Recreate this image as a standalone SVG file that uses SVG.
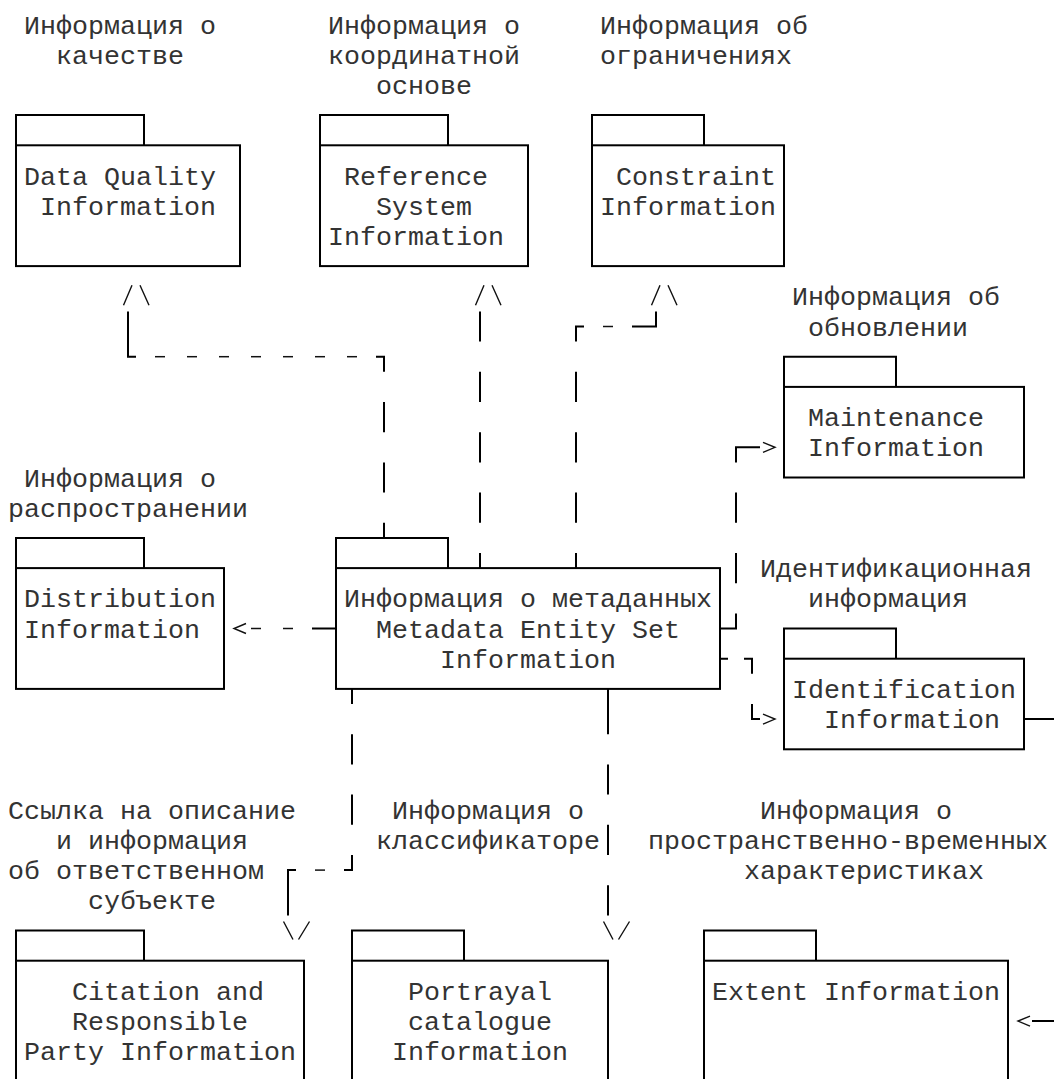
<svg xmlns="http://www.w3.org/2000/svg" xmlns:xlink="http://www.w3.org/1999/xlink" width="1054" height="1079" viewBox="0 0 1054 1079">
<style>
.pk{fill:none;stroke:#000;stroke-width:2}
.ln{fill:none;stroke:#000;stroke-width:2}
.t{font-family:"Liberation Mono","Courier New","DejaVu Sans Mono",monospace;font-size:26.667px;fill:#333;white-space:pre}
</style>
<defs>
<path id="aUp" d="M-4.5,9 L4,-11 M12,-11 L21,9" fill="none" stroke="#111" stroke-width="1.4"/>
<path id="aDown" d="M-4.5,-9 L5,9 M10.5,9 L21.5,-9" fill="none" stroke="#111" stroke-width="1.4"/>
<path id="aRight" d="M-5,-5 L7,0 L-5,5" fill="none" stroke="#111" stroke-width="1.4"/>
<path id="aLeft" d="M6,-5 L-6,0 L6,5" fill="none" stroke="#111" stroke-width="1.4"/>
<path id="hy" d="M-5,0 H5" fill="none" stroke="#111" stroke-width="1.5"/>
</defs>
<rect width="1054" height="1079" fill="#fff"/>

<g id="node-data-quality">
<text class="t" x="24" y="33.5">Информация о</text>
<text class="t" x="56" y="63.7">качестве</text>
<path class="pk" d="M16,145.3 V115.1 H144 V145.3"/>
<rect class="pk" x="16" y="145.3" width="224" height="120.8"/>
<text class="t" x="24" y="184.5">Data Quality</text>
<text class="t" x="40" y="214.7">Information</text>
</g>

<g id="node-reference-system">
<text class="t" x="328" y="33.5">Информация о</text>
<text class="t" x="328" y="63.7">координатной</text>
<text class="t" x="376" y="93.9">основе</text>
<path class="pk" d="M320,145.3 V115.1 H448 V145.3"/>
<rect class="pk" x="320" y="145.3" width="208" height="120.8"/>
<text class="t" x="344" y="184.5">Reference</text>
<text class="t" x="376" y="214.7">System</text>
<text class="t" x="328" y="244.9">Information</text>
</g>

<g id="node-constraint">
<text class="t" x="600" y="33.5">Информация об</text>
<text class="t" x="600" y="63.7">ограничениях</text>
<path class="pk" d="M592,145.3 V115.1 H704 V145.3"/>
<rect class="pk" x="592" y="145.3" width="192" height="120.8"/>
<text class="t" x="616" y="184.5">Constraint</text>
<text class="t" x="600" y="214.7">Information</text>
</g>

<g id="node-maintenance">
<text class="t" x="792" y="305.3">Информация об</text>
<text class="t" x="808" y="335.5">обновлении</text>
<path class="pk" d="M784,386.9 V356.7 H896 V386.9"/>
<rect class="pk" x="784" y="386.9" width="240" height="90.6"/>
<text class="t" x="808" y="426.1">Maintenance</text>
<text class="t" x="808" y="456.3">Information</text>
</g>

<g id="node-distribution">
<text class="t" x="24" y="486.5">Информация о</text>
<text class="t" x="8" y="516.7">распространении</text>
<path class="pk" d="M16,568.1 V537.9 H144 V568.1"/>
<rect class="pk" x="16" y="568.1" width="208" height="120.8"/>
<text class="t" x="24" y="607.3">Distribution</text>
<text class="t" x="24" y="637.5">Information</text>
</g>

<g id="node-metadata">
<path class="pk" d="M336,568.1 V537.9 H448 V568.1"/>
<rect class="pk" x="336" y="568.1" width="384" height="120.8"/>
<text class="t" x="344" y="607.3">Информация о метаданных</text>
<text class="t" x="376" y="637.5">Metadata Entity Set</text>
<text class="t" x="440" y="667.7">Information</text>
</g>

<g id="node-identification">
<text class="t" x="760" y="577.1">Идентификационная</text>
<text class="t" x="808" y="607.3">информация</text>
<path class="pk" d="M784,658.7 V628.5 H896 V658.7"/>
<rect class="pk" x="784" y="658.7" width="240" height="90.6"/>
<text class="t" x="792" y="697.9">Identification</text>
<text class="t" x="824" y="728.1">Information</text>
</g>

<g id="node-citation">
<text class="t" x="8" y="818.7">Ссылка на описание</text>
<text class="t" x="56" y="848.9">и информация</text>
<text class="t" x="8" y="879.1">об ответственном</text>
<text class="t" x="88" y="909.3">субъекте</text>
<path class="pk" d="M16,960.7 V930.5 H144 V960.7"/>
<rect class="pk" x="16" y="960.7" width="288" height="120.8"/>
<text class="t" x="72" y="999.9">Citation and</text>
<text class="t" x="72" y="1030.1">Responsible</text>
<text class="t" x="24" y="1060.3">Party Information</text>
</g>

<g id="node-portrayal">
<text class="t" x="392" y="818.7">Информация о</text>
<text class="t" x="376" y="848.9">классификаторе</text>
<path class="pk" d="M352,960.7 V930.5 H464 V960.7"/>
<rect class="pk" x="352" y="960.7" width="256" height="120.8"/>
<text class="t" x="408" y="999.9">Portrayal</text>
<text class="t" x="408" y="1030.1">catalogue</text>
<text class="t" x="392" y="1060.3">Information</text>
</g>

<g id="node-extent">
<text class="t" x="760" y="818.7">Информация о</text>
<text class="t" x="648" y="848.9">пространственно-временных</text>
<text class="t" x="744" y="879.1">характеристиках</text>
<path class="pk" d="M704,960.7 V930.5 H816 V960.7"/>
<rect class="pk" x="704" y="960.7" width="304" height="120.8"/>
<text class="t" x="712" y="999.9">Extent Information</text>
</g>

<g id="connectors">
<g id="c-metadata-dataquality">
<path class="ln" d="M384,522.8 V537.9 M384,462.4 V492.6 M384,402 V432.2 M376,356.7 H384 V371.8 M136,356.7 H128 V311.4"/>
<use xlink:href="#hy" x="160" y="356.7"/><use xlink:href="#hy" x="192" y="356.7"/><use xlink:href="#hy" x="224" y="356.7"/><use xlink:href="#hy" x="256" y="356.7"/><use xlink:href="#hy" x="288" y="356.7"/><use xlink:href="#hy" x="320" y="356.7"/><use xlink:href="#hy" x="352" y="356.7"/>
<use xlink:href="#aUp" x="128" y="296.3"/>
</g>
<g id="c-metadata-reference">
<path class="ln" d="M480,311.4 V341.6 M480,371.8 V402 M480,432.2 V462.4 M480,492.6 V522.8 M480,553 V568.1"/>
<use xlink:href="#aUp" x="480" y="296.3"/>
</g>
<g id="c-metadata-constraint">
<path class="ln" d="M576,568.1 V553 M576,522.8 V492.6 M576,462.4 V432.2 M576,402 V371.8 M576,341.6 V326.5 H584 M632,326.5 H656 V311.4"/>
<use xlink:href="#hy" x="608" y="326.5"/>
<use xlink:href="#aUp" x="656" y="296.3"/>
</g>
<g id="c-metadata-maintenance">
<path class="ln" d="M720,628.5 H736 V613.4 M736,583.2 V553 M736,522.8 V492.6 M736,462.4 V447.3 H760"/>
<use xlink:href="#aRight" x="768" y="447.3"/>
</g>
<g id="c-metadata-identification">
<path class="ln" d="M720,658.7 H728 M744,658.7 H752 V673.8 M752,704 V719.1 H760"/>
<use xlink:href="#aRight" x="768" y="719.1"/>
</g>
<g id="c-identification-extent">
<path class="ln" d="M1024,719.1 H1080 V1021.1 H1032"/>
<use xlink:href="#aLeft" x="1024" y="1021.1"/>
</g>
<g id="c-metadata-distribution">
<path class="ln" d="M336,628.5 H312"/>
<use xlink:href="#hy" x="288" y="628.5"/><use xlink:href="#hy" x="256" y="628.5"/>
<use xlink:href="#aLeft" x="240" y="628.5"/>
</g>
<g id="c-metadata-citation">
<path class="ln" d="M352,688.9 V704 M352,734.2 V764.4 M352,794.6 V824.8 M352,855 V870.1 H344 M296,870.1 H288 V915.4"/>
<use xlink:href="#hy" x="320" y="870.1"/>
<use xlink:href="#aDown" x="288" y="930.5"/>
</g>
<g id="c-metadata-portrayal">
<path class="ln" d="M608,688.9 V734.2 M608,764.4 V794.6 M608,824.8 V855 M608,885.2 V915.4"/>
<use xlink:href="#aDown" x="608" y="930.5"/>
</g>
</g>
</svg>
